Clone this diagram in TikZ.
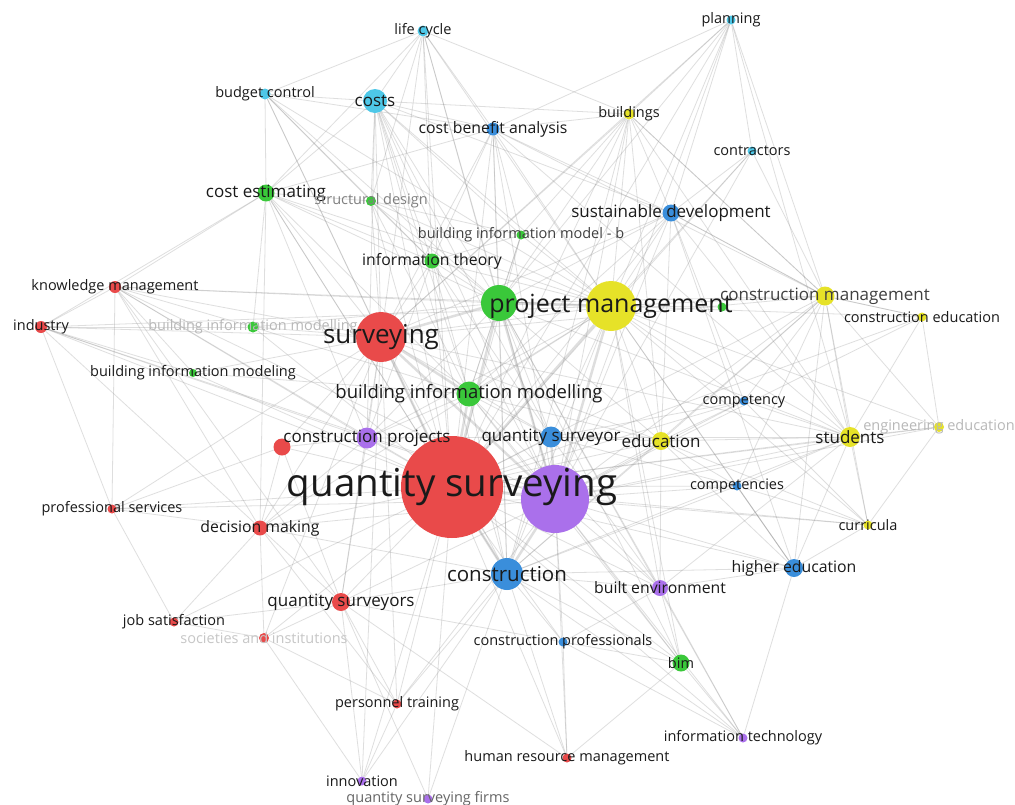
\documentclass[tikz,border=0pt]{standalone}
\usepackage{fontspec}
\setmainfont{Open Sans}
\usetikzlibrary{backgrounds}

\definecolor{vred}{RGB}{233,74,74}
\definecolor{vgreen}{RGB}{58,200,58}
\definecolor{vblue}{RGB}{58,142,219}
\definecolor{vyellow}{RGB}{230,226,40}
\definecolor{vpurple}{RGB}{170,112,235}
\definecolor{vcyan}{RGB}{78,200,232}
\definecolor{lbl}{RGB}{26,26,26}

\begin{document}
\begin{tikzpicture}[x=1pt,y=-1pt,
  kwnode/.style={draw=none,shape=circle,inner sep=0pt},
  rednode/.style={kwnode,fill=vred},
  grnnode/.style={kwnode,fill=vgreen},
  blunode/.style={kwnode,fill=vblue},
  ylwnode/.style={kwnode,fill=vyellow},
  purnode/.style={kwnode,fill=vpurple},
  cyannode/.style={kwnode,fill=vcyan},
  kw/.style={inner sep=0pt,text=lbl},
  faded/.style={text=black!28},
  f14/.style={font=\fontsize{14.5}{16}\selectfont},
  f16/.style={font=\fontsize{15.8}{18}\selectfont},
  f17/.style={font=\fontsize{17}{20}\selectfont},
  f18/.style={font=\fontsize{18.5}{22}\selectfont},
  f20/.style={font=\fontsize{20.5}{24}\selectfont},
  f25/.style={font=\fontsize{25}{30}\selectfont},
  f38/.style={font=\fontsize{38.5}{44}\selectfont},
  link/.style={draw=black!45,opacity=0.28,line width=0.8pt},
  strong/.style={draw=black!45,opacity=0.28,line width=2.5pt}]

  \useasboundingbox (0,0) rectangle (1015,804);

  % Specification of nodes (position, size)
  \node[cyannode,minimum size=11] (lc) at (423,31) {};
  \node[cyannode,minimum size=9] (pl) at (731,20) {};
  \node[cyannode,minimum size=11] (bc) at (265,94) {};
  \node[cyannode,minimum size=24] (co) at (375,101) {};
  \node[blunode,minimum size=13] (cba) at (493,129) {};
  \node[ylwnode,minimum size=11] (bu) at (629,114) {};
  \node[cyannode,minimum size=9] (ct) at (752,151) {};
  \node[grnnode,minimum size=17] (ce) at (266,193) {};
  \node[grnnode,minimum size=10] (sd) at (371,201) {};
  \node[blunode,minimum size=17] (sus) at (671,213) {};
  \node[grnnode,minimum size=9] (bimb) at (521,235) {};
  \node[grnnode,minimum size=15] (it) at (432,261) {};
  \node[rednode,minimum size=12] (km) at (115,287) {};
  \node[rednode,minimum size=12] (ind) at (41,327) {};
  \node[grnnode,minimum size=11] (bimf) at (253,327) {};
  \node[rednode,minimum size=50] (surv) at (381,337) {};
  \node[grnnode,minimum size=36] (gbig) at (499,303) {};
  \node[ylwnode,minimum size=50] (pm) at (611,306) {};
  \node[grnnode,minimum size=9] (gsm) at (722,307) {};
  \node[ylwnode,minimum size=19] (cm) at (825,296) {};
  \node[ylwnode,minimum size=9] (cedu) at (922,317) {};
  \node[grnnode,minimum size=8] (bimg) at (193,373) {};
  \node[grnnode,minimum size=25] (bimm) at (469,394) {};
  \node[blunode,minimum size=9] (cy) at (744,401) {};
  \node[ylwnode,minimum size=10] (ee) at (939,427) {};
  \node[ylwnode,minimum size=20] (st) at (850,437) {};
  \node[rednode,minimum size=17] (rsm) at (282,447) {};
  \node[purnode,minimum size=21] (cp) at (367,438) {};
  \node[blunode,minimum size=21] (qsr) at (551,437) {};
  \node[ylwnode,minimum size=18] (edu) at (661,441) {};
  \node[rednode,minimum size=102] (qs) at (452,487) {};
  \node[purnode,minimum size=68] (qsp) at (555,499) {};
  \node[blunode,minimum size=9] (cs) at (737,486) {};
  \node[rednode,minimum size=9] (ps) at (112,509) {};
  \node[rednode,minimum size=15] (dm) at (260,528) {};
  \node[ylwnode,minimum size=9] (cur) at (868,525) {};
  \node[blunode,minimum size=32] (con) at (507,574) {};
  \node[blunode,minimum size=18] (he) at (794,568) {};
  \node[purnode,minimum size=16] (be) at (660,588) {};
  \node[rednode,minimum size=18] (qss) at (341,602) {};
  \node[rednode,minimum size=9] (js) at (174,622) {};
  \node[rednode,minimum size=10] (si) at (264,638) {};
  \node[blunode,minimum size=9] (cpro) at (563,642) {};
  \node[grnnode,minimum size=17] (bim) at (681,663) {};
  \node[rednode,minimum size=9] (pt) at (397,704) {};
  \node[purnode,minimum size=9] (itec) at (743,738) {};
  \node[rednode,minimum size=9] (hrm) at (567,758) {};
  \node[purnode,minimum size=9] (inn) at (362,781) {};
  \node[purnode,minimum size=9] (qsf) at (428,799) {};

  % Labels, centred on their nodes
  \node[kw,f14] (lc-t) at (lc) {life cycle};
  \node[kw,f14] (pl-t) at (pl) {planning};
  \node[kw,f14] (bc-t) at (bc) {budget control};
  \node[kw,f17] (co-t) at (co) {costs};
  \node[kw,f16] (cba-t) at (cba) {cost benefit analysis};
  \node[kw,f14] (bu-t) at (bu) {buildings};
  \node[kw,f14] (ct-t) at (ct) {contractors};
  \node[kw,f17] (ce-t) at (ce) {cost estimating};
  \node[kw,f14,text=black!50] (sd-t) at (sd) {structural design};
  \node[kw,f17] (sus-t) at (sus) {sustainable development};
  \node[kw,f14,text=black!75] (bimb-t) at (bimb) {building information model - b};
  \node[kw,f16] (it-t) at (it) {information theory};
  \node[kw,f14] (km-t) at (km) {knowledge management};
  \node[kw,f14] (ind-t) at (ind) {industry};
  \node[kw,f14,faded] (bimf-t) at (bimf) {building information modelling};
  \node[kw,font=\fontsize{26}{30}\selectfont] (surv-t) at (surv) {surveying};
  \node[kw,f25] (pm-t) at (pm) {project management};
  \node[kw,f17,text=black!75] (cm-t) at (cm) {construction management};
  \node[kw,f14] (cedu-t) at (cedu) {construction education};
  \node[kw,f14] (bimg-t) at (bimg) {building information modeling};
  \node[kw,f18] (bimm-t) at (bimm) {building information modelling};
  \node[kw,f14] (cy-t) at (cy) {competency};
  \node[kw,f14,faded] (ee-t) at (ee) {engineering education};
  \node[kw,f17] (st-t) at (st) {students};
  \node[kw,f17] (cp-t) at (cp) {construction projects};
  \node[kw,f17] (qsr-t) at (qsr) {quantity surveyor};
  \node[kw,f17] (edu-t) at (edu) {education};
  \node[kw,f38] (qs-t) at (qs) {quantity surveying};
  \node[kw,f14] (cs-t) at (cs) {competencies};
  \node[kw,f14] (ps-t) at (ps) {professional services};
  \node[kw,f16] (dm-t) at (dm) {decision making};
  \node[kw,f14] (cur-t) at (cur) {curricula};
  \node[kw,f20] (con-t) at (con) {construction};
  \node[kw,f16] (he-t) at (he) {higher education};
  \node[kw,f16] (be-t) at (be) {built environment};
  \node[kw,f17] (qss-t) at (qss) {quantity surveyors};
  \node[kw,f14] (js-t) at (js) {job satisfaction};
  \node[kw,f14,text=black!22] (si-t) at (si) {societies and institutions};
  \node[kw,f14] (cpro-t) at (cpro) {construction professionals};
  \node[kw,f14] (bim-t) at (bim) {bim};
  \node[kw,f14] (pt-t) at (pt) {personnel training};
  \node[kw,f14] (itec-t) at (itec) {information technology};
  \node[kw,f14] (hrm-t) at (hrm) {human resource management};
  \node[kw,f14] (inn-t) at (inn) {innovation};
  \node[kw,f14,text=black!60] (qsf-t) at (qsf) {quantity surveying firms};

  % Co-occurrence links
  \begin{scope}[on background layer]
    \fill[white] (0,0) rectangle (1015,804);
    \foreach \b in {qsp,surv,pm,gbig,bimm,con}
      \draw[strong] (qs) -- (\b);
    \foreach \b in {surv,pm,gbig,con,qsr}
      \draw[strong] (qsp) -- (\b);
    \draw[strong] (surv) -- (gbig);
    \draw[strong] (pm) -- (gbig);
    \draw[strong] (surv) -- (bimm);
    \foreach \b in {lc,pl,bc,co,cba,bu,ct,ce,sd,sus,bimb,it,km,ind,bimf,cm,cedu,bimg,cy,ee,st,rsm,cp,qsr,edu,cs,ps,dm,cur,he,be,qss,js,si,cpro,bim,pt,itec,hrm,inn,qsf}
      \draw[link] (qs) -- (\b);
    \foreach \b in {lc,pl,co,cba,bu,ct,sus,it,km,ind,cm,cedu,bimm,cy,ee,st,cp,edu,cs,ps,dm,cur,he,be,qss,cpro,bim,itec,hrm,pt}
      \draw[link] (qsp) -- (\b);
    \foreach \b in {lc,bc,co,cba,bu,ce,sd,it,km,ind,bimf,pm,cm,bimg,cp,rsm,qsr,edu,con,dm,qss,ps,st,sus,pl,si,pt,inn}
      \draw[link] (surv) -- (\b);
    \foreach \b in {lc,pl,bc,co,cba,bu,ct,ce,sd,sus,bimb,it,km,cm,cedu,bimm,cy,ee,st,cp,qsr,edu,cs,con,he,be,cur,bim,dm,ind,gsm}
      \draw[link] (pm) -- (\b);
    \foreach \b in {lc,bc,co,cba,bu,ce,sd,sus,bimb,it,bimf,cm,bimm,st,cp,qsr,edu,con,be,bim,itec,km,pl}
      \draw[link] (gbig) -- (\b);
    \foreach \b in {co,ce,sd,bimb,it,bimf,bimg,cp,qsr,edu,con,bim,sus,be}
      \draw[link] (bimm) -- (\b);
    \foreach \b in {co,cba,ce,bu,cm,st,he,qsr,edu,be,cpro,bim,hrm,qss,dm,itec,cs,pt,inn,qsf}
      \draw[link] (con) -- (\b);
    \foreach \b in {pl,ct,bu,sus,cedu,st,ee,cur,he,cy,edu,cs}
      \draw[link] (cm) -- (\b);
    \foreach \b in {cedu,ee,cur,he,cy,edu,cs,pl,sus,be}
      \draw[link] (st) -- (\b);
    \foreach \a/\b in {bc/co,bc/ce,bc/lc,bc/cba,lc/co,lc/cba,lc/bu,pl/bu,pl/ct,pl/sus,pl/cba,
      co/cba,co/bu,co/ce,cba/bu,cba/sus,ce/km,ce/ind,ce/sd,km/ind,km/bimg,ind/bimf,
      ind/bimg,ind/dm,ps/dm,ps/rsm,ps/km,dm/qss,dm/js,dm/si,qss/js,qss/si,qss/pt,si/pt,
      pt/inn,inn/qss,qsf/qss,hrm/cpro,hrm/bim,itec/bim,itec/be,itec/he,bim/be,he/cur,
      he/cs,cur/ee,ee/cedu,cedu/cm,bu/sus,ct/sus,edu/he,edu/cur,qsr/edu,cp/rsm,cp/dm}
      \draw[link] (\a) -- (\b);
    \foreach \a/\b in {co/sd,co/it,co/bimb,co/sus,co/cp,co/qsr,cba/it,cba/bimb,cba/cm,
      cba/st,cba/ce,ce/it,ce/bimf,ce/cp,ce/dm,sd/it,sd/bimb,it/bimb,it/cp,it/qsr,
      bu/bimb,bu/cm,bu/st,bu/edu,sus/cm,sus/edu,sus/he,sus/cy,lc/it,lc/ce,lc/sd,
      bc/it,bc/sd,km/bimf,km/dm,km/cp,km/qss,ind/cp,ind/ps,rsm/dm,rsm/qss,cp/qss,
      cp/qsr,qsr/cy,qsr/cs,qsr/st,qsr/be,edu/cy,edu/cs,edu/be,cs/he,cs/cur,cy/cur,
      be/he,be/cpro,cpro/bim,cpro/itec,qss/cpro,qss/hrm,dm/pt,si/inn,ps/js,js/si}
      \draw[link] (\a) -- (\b);
  \end{scope}

\end{tikzpicture}
\end{document}
